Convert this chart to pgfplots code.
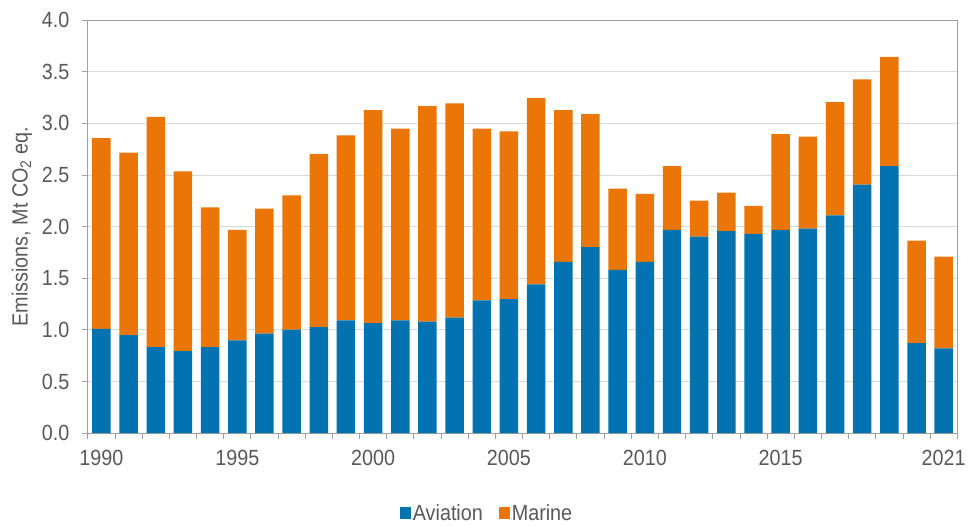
\documentclass[border=0pt]{standalone}
\usepackage{fontspec}
\setmainfont[FakeStretch=0.9]{Liberation Sans}
\usepackage{pgfplots}
\pgfplotsset{compat=1.18}
\definecolor{avblue}{RGB}{2,115,176}
\definecolor{maorange}{RGB}{233,118,6}
\definecolor{axgray}{RGB}{160,160,160}
\definecolor{gridgray}{RGB}{217,217,217}
\definecolor{txtgray}{RGB}{89,89,89}
\begin{document}
\begin{tikzpicture}
\begin{axis}[
  scale only axis,
  width=871pt, height=414pt,
  ybar stacked,
  bar width=0.68,
  xmin=1989.5, xmax=2021.5,
  ymin=0, ymax=4,
  ytick={0,0.5,...,4},
  yticklabel style={xshift=-9pt, /pgf/number format/.cd, fixed, fixed zerofill, precision=1, assume math mode=true},
  xticklabel style={yshift=-13pt},
  xtick={1989.5,1990.5,...,2021.5},
  xticklabels={},
  extra x ticks={1990,1995,2000,2005,2010,2015,2021},
  extra x tick labels={1990,1995,2000,2005,2010,2015,2021},
  extra x tick style={major tick length=0pt, grid=none},
  tick align=outside,
  major tick length=6pt,
  ymajorgrids,
  grid style={gridgray, line width=0.8pt},
  axis line style={axgray, line width=0.8pt},
  tick style={axgray, line width=0.8pt},
  xtick pos=bottom, ytick pos=left,
  ticklabel style={font=\fontsize{22}{25}\selectfont, text=txtgray},
  ylabel={Emissions, Mt CO\textsubscript{2} eq.},
  ylabel style={font=\fontsize{22}{25}\selectfont, text=txtgray, at={(axis description cs:-0.0758,0.5)}, anchor=center},
  legend style={at={(0.4592,-0.1932)}, anchor=center, draw=none, legend columns=2, font=\fontsize{22}{25}\selectfont, text=txtgray, /tikz/every even column/.append style={column sep=14pt}},
  legend image code/.code={\fill[#1] (0pt,-6pt) rectangle (11pt,6pt);},
]
\addplot[fill=avblue, draw=none] coordinates {
(1990,1.011) (1991,0.950) (1992,0.834) (1993,0.795) (1994,0.834) (1995,0.899)
(1996,0.963) (1997,1.002) (1998,1.027) (1999,1.092) (2000,1.066) (2001,1.092)
(2002,1.079) (2003,1.118) (2004,1.285) (2005,1.298) (2006,1.440) (2007,1.659)
(2008,1.800) (2009,1.581) (2010,1.659) (2011,1.968) (2012,1.903) (2013,1.955)
(2014,1.929) (2015,1.968) (2016,1.981) (2017,2.109) (2018,2.406) (2019,2.586)
(2020,0.873) (2021,0.821)};
\addlegendentry{Aviation}
\addplot[fill=maorange, draw=none] coordinates {
(1990,1.846) (1991,1.765) (1992,2.229) (1993,1.740) (1994,1.353) (1995,1.069)
(1996,1.211) (1997,1.301) (1998,1.675) (1999,1.790) (2000,2.061) (2001,1.855)
(2002,2.087) (2003,2.074) (2004,1.662) (2005,1.623) (2006,1.803) (2007,1.468)
(2008,1.289) (2009,0.786) (2010,0.657) (2011,0.618) (2012,0.348) (2013,0.374)
(2014,0.271) (2015,0.927) (2016,0.889) (2017,1.095) (2018,1.018) (2019,1.057)
(2020,0.992) (2021,0.889)};
\addlegendentry{Marine}
\end{axis}
\path ([shift={(-88pt,-80pt)}]current axis.south west) rectangle ([shift={(10pt,20pt)}]current axis.north east);
\end{tikzpicture}
\end{document}
